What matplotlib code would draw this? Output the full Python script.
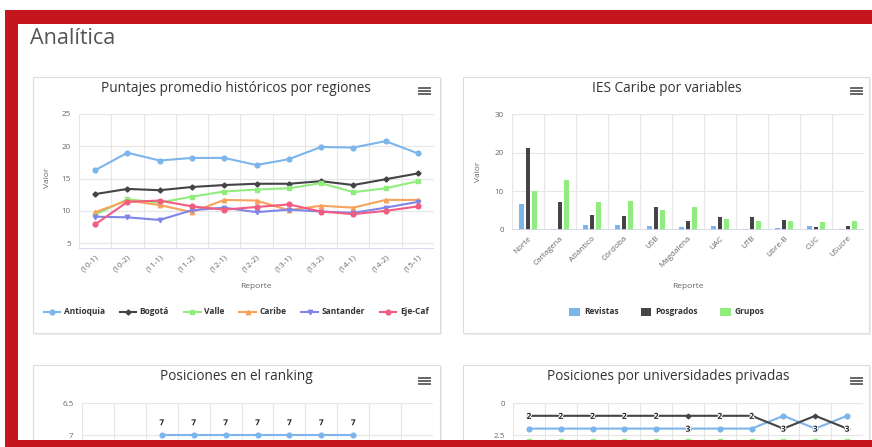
"""Analytics dashboard screenshot: four Highcharts-like panels."""

import matplotlib
matplotlib.use("Agg")
import matplotlib.pyplot as plt
import matplotlib.patheffects as pe
from matplotlib.patches import Rectangle
from matplotlib.lines import Line2D

W, H = 872, 447

# ---- data ---------------------------------------------------------------
reportes = ["(10-1)", "(10-2)", "(11-1)", "(11-2)", "(12-1)", "(12-2)",
            "(13-1)", "(13-2)", "(14-1)", "(14-2)", "(15-1)"]
regiones = ["Antioquia", "Bogotá", "Valle", "Caribe", "Santander", "Eje-Caf"]
antioquia = [16.3, 19.0, 17.8, 18.2, 18.2, 17.1, 18.0, 19.9, 19.8, 20.8, 18.9]
bogota = [12.6, 13.4, 13.2, 13.7, 14.0, 14.2, 14.2, 14.6, 14.0, 14.9, 15.8]
valle = [9.4, 11.8, 11.3, 12.2, 13.0, 13.3, 13.5, 14.3, 12.9, 13.5, 14.6]
caribe = [9.8, 11.6, 10.9, 9.8, 11.7, 11.6, 10.1, 10.8, 10.5, 11.7, 11.7]
santander = [9.1, 9.0, 8.6, 10.1, 10.5, 9.8, 10.2, 9.9, 9.7, 10.5, 11.4]
eje_caf = [7.9, 11.4, 11.6, 10.7, 10.2, 10.6, 11.0, 9.9, 9.5, 10.0, 10.7]

ies = ["Norte", "Cartagena", "Atlántico", "Córdoba", "USB", "Magdalena",
       "UAC", "UTB", "Libre-B", "CUC", "USucre"]
revistas = [6.6, 0.2, 1.2, 1.2, 1.0, 0.8, 1.1, 0.2, 0.5, 1.0, 0.2]
posgrados = [21.1, 7.2, 4.0, 3.5, 5.9, 2.2, 3.3, 3.3, 2.5, 0.9, 1.1]
grupos = [10.0, 13.0, 7.2, 7.6, 5.1, 5.9, 2.8, 2.4, 2.2, 2.0, 2.4]

ranking = [None, None, 7, 7, 7, 7, 7, 7, 7, None, None]

priv_a = [2, 2, 2, 2, 2, 2, 2, 2, 1, 2, 1]
priv_b = [1, 1, 1, 1, 1, 1, 1, 1, 2, 1, 2]
priv_c = [3, 3, 3, 3, 3, 3, 3, 3, 3, 3, 3]
priv_a_labels = ["2", "2", "2", "2", "2", "", "2", "2", "", "", ""]
priv_c_labels = ["", "", "", "", "", "3", "", "", "3", "3", "3"]

COLORS = ["#7cb5ec", "#434348", "#90ed7d", "#f7a35c", "#8085e9", "#f15c80"]
MARKERS = ["o", "D", "s", "^", "v", "o"]
MSIZES = [3.4, 2.6, 3.0, 3.2, 3.2, 3.4]
GRID = "#e6e6e6"
AXIS = "#ccd6eb"
RED = "#c4161c"

plt.rcParams["font.family"] = ["Open Sans", "DejaVu Sans"]


def fx(x):
    return x / W


def fy(y):
    return 1 - y / H


def ax_at(fig, x0, y0, x1, y1):
    return fig.add_axes([fx(x0), fy(y1), (x1 - x0) / W, (y1 - y0) / H])


def style_axes(ax, n):
    ax.set_facecolor("none")
    for s in ax.spines.values():
        s.set_visible(False)
    ax.set_xlim(-0.5, n - 0.5)
    for b in range(n + 1):
        ax.axvline(b - 0.5, color=GRID, lw=0.8, zorder=0)
    ax.grid(True, axis="y", color=GRID, lw=0.8)
    ax.set_axisbelow(True)
    ax.tick_params(axis="y", length=0, labelsize=5.8, labelcolor="#666666", pad=6)
    ax.tick_params(axis="x", length=0, labelsize=5.8, labelcolor="#666666")


def hamburger(fig, x, y):
    for dy in (0, 3, 6):
        fig.add_artist(Line2D([fx(x), fx(x + 11)], [fy(y + dy), fy(y + dy)],
                              color="#666666", lw=1.4, zorder=3))


def card(fig, x0, y0, x1, y1):
    fig.add_artist(Rectangle((fx(x0 + 2), fy(y1 + 2)), (x1 - x0) / W, (y1 - y0) / H,
                             facecolor="#eeeeee", edgecolor="none", zorder=1))
    fig.add_artist(Rectangle((fx(x0), fy(y1)), (x1 - x0) / W, (y1 - y0) / H,
                             facecolor="white", edgecolor="#dddddd", lw=0.8, zorder=1))


fig = plt.figure(figsize=(W / 100, H / 100), dpi=100)
fig.patch.set_facecolor("white")

# red frame and white panel
fig.add_artist(Rectangle((fx(5), 0), 1 - fx(5), fy(10), facecolor=RED,
                         edgecolor="none", zorder=0.1))
fig.add_artist(Rectangle((fx(18), fy(440)), 1 - fx(18), (440 - 24) / H,
                         facecolor="white", edgecolor="none", zorder=0.2))
fig.text(fx(30), fy(39), "Analítica", fontsize=15.5, color="#555555", va="center")

card(fig, 33, 77, 440, 333)
card(fig, 463, 77, 869, 333)
card(fig, 33, 365, 440, 520)
card(fig, 463, 365, 869, 520)

title_kw = dict(fontsize=9.8, color="#333333", ha="center", va="center", zorder=3)
label_kw = dict(fontsize=6, color="#666666", ha="center", va="center", zorder=3)

# ---- chart 1: lines ------------------------------------------------------
fig.text(fx(236), fy(89), "Puntajes promedio históricos por regiones", **title_kw)
hamburger(fig, 419, 88)
ax1 = ax_at(fig, 79, 114, 434, 249)
ax1.set_zorder(2)
style_axes(ax1, len(reportes))
series1 = [antioquia, bogota, valle, caribe, santander, eje_caf]
x = range(len(reportes))
for name, vals, c, m, ms in zip(regiones, series1, COLORS, MARKERS, MSIZES):
    ax1.plot(x, vals, color=c, marker=m, markersize=ms, lw=1.5, label=name)
ax1.set_ylim(4.1, 25)
ax1.set_yticks([5, 10, 15, 20, 25])
ax1.set_xticks(list(x))
ax1.set_xticklabels(reportes, rotation=45, ha="right", rotation_mode="anchor")
ax1.axhline(4.1, color=AXIS, lw=1.2, zorder=1)
fig.text(fx(47), fy(178), "Valor", rotation=90, **label_kw)
fig.text(fx(256), fy(286), "Reporte", **label_kw)
leg1 = ax1.legend(loc="center", bbox_to_anchor=(fx(236), fy(312)),
                  bbox_transform=fig.transFigure, ncol=6, frameon=False,
                  prop={"size": 6, "weight": "bold"}, handlelength=2.0,
                  columnspacing=1.8, handletextpad=0.4)
for t in leg1.get_texts():
    t.set_color("#333333")

# ---- chart 2: grouped bars ----------------------------------------------
fig.text(fx(667), fy(89), "IES Caribe por variables", **title_kw)
hamburger(fig, 851, 88)
ax2 = ax_at(fig, 512, 114, 864, 230)
ax2.set_zorder(2)
style_axes(ax2, len(ies))
bw = 0.14
for i, (name, vals, c) in enumerate(zip(["Revistas", "Posgrados", "Grupos"],
                                        [revistas, posgrados, grupos],
                                        ["#7cb5ec", "#434348", "#90ed7d"])):
    ax2.bar([k + (i - 1) * 0.2 for k in range(len(ies))], vals, width=bw,
            color=c, label=name, zorder=2)
ax2.set_ylim(0, 30)
ax2.set_yticks([0, 10, 20, 30])
ax2.set_xticks(range(len(ies)))
ax2.set_xticklabels(ies, rotation=45, ha="right", rotation_mode="anchor")
ax2.axhline(0, color=AXIS, lw=1.2, zorder=3)
fig.text(fx(479), fy(172), "Valor", rotation=90, **label_kw)
fig.text(fx(688), fy(286), "Reporte", **label_kw)
leg2 = ax2.legend(loc="center", bbox_to_anchor=(fx(667), fy(312)),
                  bbox_transform=fig.transFigure, ncol=3, frameon=False,
                  prop={"size": 6, "weight": "bold"}, handlelength=1.3,
                  handleheight=1.1, columnspacing=2.6, handletextpad=0.5)
for t in leg2.get_texts():
    t.set_color("#333333")

lbl_fx = [pe.withStroke(linewidth=1.5, foreground="white")]

# ---- chart 3: ranking ----------------------------------------------------
fig.text(fx(236), fy(377), "Posiciones en el ranking", **title_kw)
hamburger(fig, 419, 378)
ax3 = ax_at(fig, 82, 403, 433, 531)
ax3.set_zorder(2)
style_axes(ax3, len(reportes))
xr = [k for k, v in enumerate(ranking) if v is not None]
yr = [v for v in ranking if v is not None]
ax3.plot(xr, yr, color=COLORS[0], marker="o", markersize=3.4, lw=1.5)
for k, v in zip(xr, yr):
    ax3.annotate(str(v), (k, v), xytext=(0, 7), textcoords="offset points",
                 ha="center", fontsize=6, fontweight="bold", color="#222222",
                 path_effects=lbl_fx)
ax3.set_ylim(8.5, 6.5)
ax3.set_yticks([6.5, 7])
ax3.set_yticklabels(["6.5", "7"])
ax3.set_xticks([])

# ---- chart 4: private universities ---------------------------------------
fig.text(fx(668), fy(377), "Posiciones por universidades privadas", **title_kw)
hamburger(fig, 851, 378)
ax4 = ax_at(fig, 513, 403, 863, 499)
ax4.set_zorder(2)
style_axes(ax4, len(ies))
xi = range(len(ies))
ax4.plot(xi, priv_c, color=COLORS[2], marker="s", markersize=3.0, lw=1.5)
ax4.plot(xi, priv_a, color=COLORS[0], marker="o", markersize=3.4, lw=1.5)
ax4.plot(xi, priv_b, color=COLORS[1], marker="D", markersize=2.4, lw=1.5)
for vals, labels in ((priv_a, priv_a_labels), (priv_c, priv_c_labels)):
    for k, (v, t) in enumerate(zip(vals, labels)):
        if t:
            ax4.annotate(t, (k, v), xytext=(0, 7), textcoords="offset points",
                         ha="center", fontsize=6, fontweight="bold",
                         color="#222222", path_effects=lbl_fx)
ax4.set_ylim(7.5, 0)
ax4.set_yticks([0, 2.5])
ax4.set_yticklabels(["0", "2.5"])
ax4.set_xticks([])

# bottom red band drawn above the cut-off charts
fig.add_artist(Rectangle((fx(5), 0), 1 - fx(5), (H - 440) / H, facecolor=RED,
                         edgecolor="none", zorder=10))

fig.savefig("out.png", dpi=100, facecolor="white")
